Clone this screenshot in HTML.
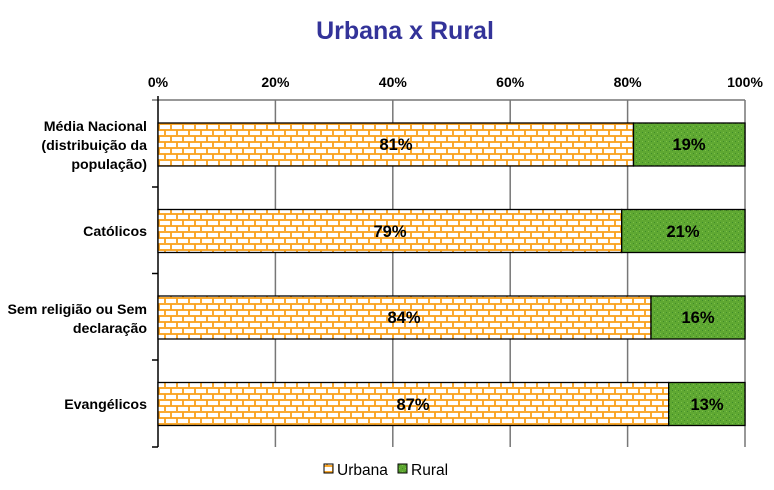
<!DOCTYPE html>
<html><head><meta charset="utf-8"><style>
body{margin:0;background:#fff;}
svg{display:block;font-family:"Liberation Sans",Arial,sans-serif;}
</style></head><body>
<svg width="774" height="490" viewBox="0 0 774 490">
<defs>
<pattern id="brick" x="158" y="123" width="12" height="12" patternUnits="userSpaceOnUse">
<rect width="12" height="12" fill="#fff"/>
<line x1="0" y1="1" x2="12" y2="1" stroke="#f9a11b" stroke-width="1.8"/>
<line x1="0" y1="7" x2="12" y2="7" stroke="#f9a11b" stroke-width="1.8"/>
<line x1="1" y1="1" x2="1" y2="7" stroke="#f9a11b" stroke-width="1.8"/>
<line x1="7" y1="7" x2="7" y2="12" stroke="#f9a11b" stroke-width="1.8"/>
</pattern>
<pattern id="green" width="6" height="6" patternUnits="userSpaceOnUse">
<rect width="6" height="6" fill="#5fa832"/>
<rect x="0" y="0" width="1" height="1" fill="#3f8a2a"/>
<rect x="3" y="3" width="1" height="1" fill="#3f8a2a"/>
<rect x="3" y="0" width="1" height="1" fill="#7cc04a"/>
<rect x="0" y="3" width="1" height="1" fill="#7cc04a"/>
</pattern>
</defs>
<text x="405" y="39" text-anchor="middle" font-size="25" font-weight="bold" fill="#333399">Urbana x Rural</text>
<g font-size="14" font-weight="bold" text-anchor="middle" fill="#000">
<text x="158" y="87">0%</text><text x="275.4" y="87">20%</text><text x="392.8" y="87">40%</text>
<text x="510.2" y="87">60%</text><text x="627.6" y="87">80%</text><text x="745" y="87">100%</text>
</g>
<g stroke="#777" stroke-width="1.5">
<line x1="152" y1="100" x2="745" y2="100"/>
<line x1="275.4" y1="100" x2="275.4" y2="447"/>
<line x1="392.8" y1="100" x2="392.8" y2="447"/>
<line x1="510.2" y1="100" x2="510.2" y2="447"/>
<line x1="627.6" y1="100" x2="627.6" y2="447"/>
<line x1="745" y1="100" x2="745" y2="447"/>
</g>
<g stroke="#000" stroke-width="1.5">
<line x1="158" y1="96" x2="158" y2="447"/>
<line x1="152" y1="187" x2="158" y2="187"/>
<line x1="152" y1="273.5" x2="158" y2="273.5"/>
<line x1="152" y1="360" x2="158" y2="360"/>
<line x1="152" y1="447" x2="158" y2="447"/>
</g>
<g stroke="#000" stroke-width="1.3">
<rect x="158" y="123" width="475.5" height="43" fill="url(#brick)"/>
<rect x="633.5" y="123" width="111.5" height="43" fill="url(#green)"/>
<rect x="158" y="209.5" width="463.7" height="43" fill="url(#brick)"/>
<rect x="621.7" y="209.5" width="123.3" height="43" fill="url(#green)"/>
<rect x="158" y="296" width="493" height="43" fill="url(#brick)"/>
<rect x="651" y="296" width="94" height="43" fill="url(#green)"/>
<rect x="158" y="382.5" width="510.7" height="43" fill="url(#brick)"/>
<rect x="668.7" y="382.5" width="76.3" height="43" fill="url(#green)"/>
</g>
<g font-size="16.5" font-weight="bold" text-anchor="middle" fill="#000">
<text x="396" y="150">81%</text><text x="689" y="150">19%</text>
<text x="390" y="237">79%</text><text x="683" y="237">21%</text>
<text x="404" y="323">84%</text><text x="698" y="323">16%</text>
<text x="413" y="410">87%</text><text x="707" y="410">13%</text>
</g>
<g font-size="14.2" font-weight="bold" text-anchor="end" fill="#000">
<text x="147" y="131">Média Nacional</text>
<text x="147" y="150">(distribuição da</text>
<text x="147" y="169">população)</text>
<text x="147" y="236">Católicos</text>
<text x="147" y="314">Sem religião ou Sem</text>
<text x="147" y="333">declaração</text>
<text x="147" y="409">Evangélicos</text>
</g>
<rect x="324" y="464" width="9" height="9" fill="url(#brick)" stroke="#000" stroke-width="1"/>
<text x="337" y="475" font-size="15.5" fill="#000">Urbana</text>
<rect x="398" y="464" width="9" height="9" fill="url(#green)" stroke="#000" stroke-width="1"/>
<text x="411" y="475" font-size="15.5" fill="#000">Rural</text>
</svg>
</body></html>
